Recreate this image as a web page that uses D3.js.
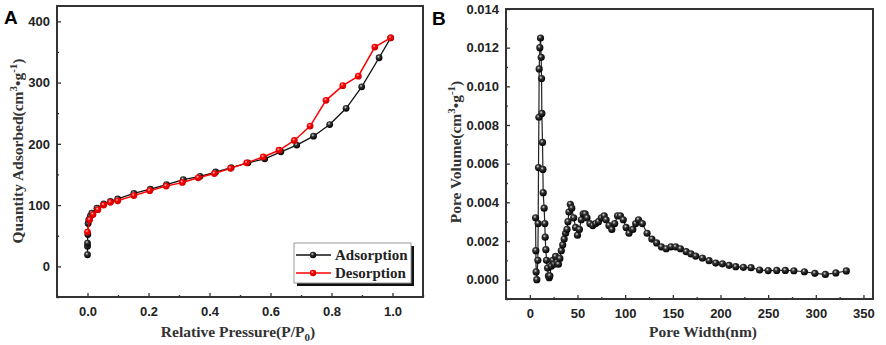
<!DOCTYPE html>
<html>
<head>
  <meta charset="utf-8">
  <title>Isotherm and pore size distribution</title>
  <style>
    body { margin: 0; background: #fff; }
    .tick text { font-family: "Liberation Sans", Arial, sans-serif; font-weight: bold; font-size: 13px; fill: #222; }
    .tick line { stroke: #333; stroke-width: 1.3; }
    .domain { display: none; }
    .axis-title { font-family: "Liberation Serif", "Times New Roman", serif; font-weight: bold; font-size: 15.5px; fill: #333; }
    .panel-letter { font-family: "Liberation Sans", Arial, sans-serif; font-weight: bold; font-size: 19px; fill: #000; }
    .legend text { font-family: "Liberation Serif", "Times New Roman", serif; font-weight: bold; font-size: 15px; fill: #222; }
  </style>
  <script src="https://d3js.org/d3.v7.min.js"></script>
</head>
<body>
<svg id="fig" width="886" height="345"></svg>
<script>
  // Panel A: N2 adsorption / desorption isotherm
  const adsP = [0.000, 0.000, 0.000, 0.001, 0.002, 0.004, 0.009, 0.014, 0.031, 0.053, 0.075, 0.099,
    0.152, 0.206, 0.259, 0.314, 0.369, 0.420, 0.471, 0.526, 0.581, 0.634, 0.686, 0.741, 0.794,
    0.848, 0.899, 0.956, 0.994];
  const adsQ = [19, 33, 38, 52, 70, 76, 82, 87, 95, 102, 106, 110,
    119, 126, 133.5, 141.5, 147, 154, 161, 169, 175.5, 187, 198, 212.5, 231.5,
    258, 293, 340.5, 373];
  const desP = [0.994, 0.942, 0.888, 0.837, 0.782, 0.730, 0.678, 0.628, 0.576, 0.522, 0.469, 0.416,
    0.363, 0.311, 0.258, 0.204, 0.152, 0.099, 0.075, 0.053, 0.034, 0.018, 0.007, 0.000];
  const desQ = [373, 358, 310.5, 295, 271, 229, 205.5, 189.5, 178.5, 169, 160, 151.5,
    144.5, 137, 131, 123.5, 115.5, 107, 104.5, 100, 92.5, 84.5, 76, 56];

  // Panel B: pore size distribution
  const poreW = [6.0, 6.3, 6.6, 7.3, 8.4, 8.75, 9.1, 9.5, 9.8, 10.5, 11.2, 11.9, 12.3, 12.6, 13.3, 13.7,
    14.0, 15.0, 15.7, 16.1, 16.8, 17.5, 18.6, 19.5, 20.3,
    21, 22.5, 24, 25.5, 27, 28.5, 30, 31.5, 33, 34.5, 36, 37.5, 39, 40, 41, 42.5, 44, 46, 48, 50,
    52, 54, 56, 58, 60, 63, 66, 69, 72, 75, 78, 80, 83, 86, 89, 92, 95, 98, 101, 104, 108, 111,
    114, 118, 123, 128, 133, 138, 143, 148, 153, 158, 164, 169, 174, 181, 188, 195, 202, 209,
    216, 224, 232, 241, 250, 259, 268, 277, 288, 299, 310, 321, 332];
  const poreV = [0.0032, 0.0015, 0.0004, 0.0000, 0.0010, 0.0029, 0.0058, 0.0084, 0.0109, 0.0120, 0.0125,
    0.0115, 0.0104, 0.0086, 0.0071, 0.0057, 0.0045, 0.0037, 0.0029, 0.0022, 0.00155, 0.0010, 0.0006,
    0.0002, 0.0001,
    0.0002, 0.0007, 0.0010, 0.0008, 0.0012, 0.0009, 0.0008, 0.0011, 0.0015, 0.0018, 0.0021, 0.0024,
    0.0026, 0.0030, 0.0035, 0.0039, 0.0037, 0.0032, 0.0027, 0.0023,
    0.0026, 0.0031, 0.0034, 0.0034, 0.0032, 0.0029, 0.0028, 0.0029, 0.0030, 0.0032, 0.0033, 0.0031,
    0.0028, 0.0026, 0.0029, 0.0033, 0.0033, 0.0031, 0.0027, 0.0024, 0.0026, 0.0029,
    0.0031, 0.0029, 0.0024, 0.0021, 0.0019, 0.0017, 0.0016, 0.0017, 0.0017, 0.0016, 0.00145, 0.00133,
    0.00122, 0.00112, 0.00098, 0.00086, 0.00082, 0.00074,
    0.00067, 0.00064, 0.00062, 0.0005, 0.00047, 0.00048, 0.00048, 0.00046, 0.00041, 0.00033, 0.00027,
    0.00035, 0.00045];

  const aYTicks = [0, 100, 200, 300, 400];
  const aXTicks = [0, 0.2, 0.4, 0.6, 0.8, 1.0];
  const bYTicks = [0, 0.002, 0.004, 0.006, 0.008, 0.010, 0.012, 0.014];
  const bXTicks = [0, 50, 100, 150, 200, 250, 300, 350];

  const svg = d3.select('#fig');

  // sphere-looking markers
  const defs = svg.append('defs');
  function ball(id, dark, mid, light) {
    const g = defs.append('radialGradient').attr('id', id)
      .attr('cx', '0.4').attr('cy', '0.35').attr('r', '0.65');
    g.append('stop').attr('offset', '0%').attr('stop-color', light);
    g.append('stop').attr('offset', '35%').attr('stop-color', mid);
    g.append('stop').attr('offset', '100%').attr('stop-color', dark);
  }
  ball('ballK', '#000', '#333', '#ddd');
  ball('ballR', '#c00', '#f00', '#fcc');

  function frameAxes(g, x, y, xt, yt, xminor, yminor, xfmt, yfmt, w, h) {
    g.append('g').attr('transform', `translate(0,${h})`)
      .call(d3.axisBottom(x).tickValues(xminor).tickSize(-2).tickFormat(''));
    g.append('g')
      .call(d3.axisLeft(y).tickValues(yminor).tickSize(-2).tickFormat(''));
    g.append('g').attr('transform', `translate(0,${h})`)
      .call(d3.axisBottom(x).tickValues(xt).tickSize(-4).tickPadding(10).tickFormat(xfmt));
    g.append('g')
      .call(d3.axisLeft(y).tickValues(yt).tickSize(-4).tickPadding(7).tickFormat(yfmt));
    g.append('rect').attr('width', w).attr('height', h)
      .attr('fill', 'none').attr('stroke', '#333').attr('stroke-width', 2);
  }

  // ---------- Panel A ----------
  const A = { left: 57, top: 6, right: 423, bottom: 297 };
  const aw = A.right - A.left, ah = A.bottom - A.top;
  const xA = d3.scaleLinear().domain([-0.1, 1.1]).range([0, aw]);
  const yA = d3.scaleLinear().domain([-50, 425]).range([ah, 0]);
  const gA = svg.append('g').attr('transform', `translate(${A.left},${A.top})`);

  frameAxes(gA, xA, yA, aXTicks, aYTicks,
    d3.range(-0.1, 1.11, 0.1).map(v => +v.toFixed(2)).filter(v => !aXTicks.includes(v)),
    [-50, 50, 150, 250, 350],
    d3.format('.1f'), d3.format('d'), aw, ah);

  const ads = adsP.map((p, i) => [p, adsQ[i]]);
  const des = desP.map((p, i) => [p, desQ[i]]);
  const lineA = d3.line().x(d => xA(d[0])).y(d => yA(d[1]));

  gA.append('path').datum(ads).attr('d', lineA)
    .attr('fill', 'none').attr('stroke', '#111').attr('stroke-width', 1.3);
  gA.selectAll('.ads').data(ads).enter().append('circle')
    .attr('cx', d => xA(d[0])).attr('cy', d => yA(d[1])).attr('r', 3.4)
    .attr('fill', 'url(#ballK)');
  gA.append('path').datum(des).attr('d', lineA)
    .attr('fill', 'none').attr('stroke', '#f00').attr('stroke-width', 1.5);
  gA.selectAll('.des').data(des).enter().append('circle')
    .attr('cx', d => xA(d[0])).attr('cy', d => yA(d[1])).attr('r', 3.4)
    .attr('fill', 'url(#ballR)');

  // legend
  const leg = svg.append('g').attr('class', 'legend');
  leg.append('rect').attr('x', 297).attr('y', 246).attr('width', 117).attr('height', 40).attr('fill', '#111');
  leg.append('rect').attr('x', 294).attr('y', 243).attr('width', 117).attr('height', 40)
    .attr('fill', '#fff').attr('stroke', '#999').attr('stroke-width', 1);
  [['Adsorption', '#111', 'url(#ballK)', 255], ['Desorption', '#f00', 'url(#ballR)', 273]].forEach(r => {
    leg.append('line').attr('x1', 296).attr('x2', 331).attr('y1', r[3]).attr('y2', r[3])
      .attr('stroke', r[1]).attr('stroke-width', 1.4);
    leg.append('circle').attr('cx', 313).attr('cy', r[3]).attr('r', 3.2).attr('fill', r[2]);
    leg.append('text').attr('x', 335).attr('y', r[3] + 5).text(r[0]);
  });

  const tA = svg.append('text').attr('class', 'axis-title')
    .attr('transform', 'translate(23,151) rotate(-90)').attr('text-anchor', 'middle');
  tA.append('tspan').text('Quantity Adsorbed(cm');
  tA.append('tspan').attr('dy', -6).attr('font-size', 11).text('3');
  tA.append('tspan').attr('dy', 6).text('•g');
  tA.append('tspan').attr('dy', -6).attr('font-size', 11).text('-1');
  tA.append('tspan').attr('dy', 6).text(')');

  const xtA = svg.append('text').attr('class', 'axis-title')
    .attr('x', 238).attr('y', 337).attr('text-anchor', 'middle');
  xtA.append('tspan').text('Relative Pressure(P/P');
  xtA.append('tspan').attr('dy', 4).attr('font-size', 11).text('0');
  xtA.append('tspan').attr('dy', -4).text(')');

  svg.append('text').attr('class', 'panel-letter').attr('x', 4).attr('y', 24).text('A');

  // ---------- Panel B ----------
  const B = { left: 506, top: 9, right: 873, bottom: 299 };
  const bw = B.right - B.left, bh = B.bottom - B.top;
  const xB = d3.scaleLinear().domain([-25, 360]).range([0, bw]);
  const yB = d3.scaleLinear().domain([-0.001, 0.014]).range([bh, 0]);
  const gB = svg.append('g').attr('transform', `translate(${B.left},${B.top})`);

  frameAxes(gB, xB, yB, bXTicks, bYTicks,
    [-25, 25, 75, 125, 175, 225, 275, 325],
    [-0.001, 0.001, 0.003, 0.005, 0.007, 0.009, 0.011, 0.013],
    d3.format('d'), d3.format('.3f'), bw, bh);

  const pore = poreW.map((w, i) => [w, poreV[i]]);
  const lineB = d3.line().x(d => xB(d[0])).y(d => yB(d[1]));
  gB.append('path').datum(pore).attr('d', lineB)
    .attr('fill', 'none').attr('stroke', '#222').attr('stroke-width', 1.2);
  gB.selectAll('.pore').data(pore).enter().append('circle')
    .attr('cx', d => xB(d[0])).attr('cy', d => yB(d[1])).attr('r', 3.6)
    .attr('fill', 'url(#ballK)');

  const tB = svg.append('text').attr('class', 'axis-title')
    .attr('transform', 'translate(461,152) rotate(-90)').attr('text-anchor', 'middle');
  tB.append('tspan').text('Pore Volume(cm');
  tB.append('tspan').attr('dy', -6).attr('font-size', 11).text('3');
  tB.append('tspan').attr('dy', 6).text('•g');
  tB.append('tspan').attr('dy', -6).attr('font-size', 11).text('-1');
  tB.append('tspan').attr('dy', 6).text(')');

  svg.append('text').attr('class', 'axis-title')
    .attr('x', 703).attr('y', 337).attr('text-anchor', 'middle').text('Pore Width(nm)');

  svg.append('text').attr('class', 'panel-letter').attr('x', 432).attr('y', 25).text('B');
</script>
</body>
</html>
